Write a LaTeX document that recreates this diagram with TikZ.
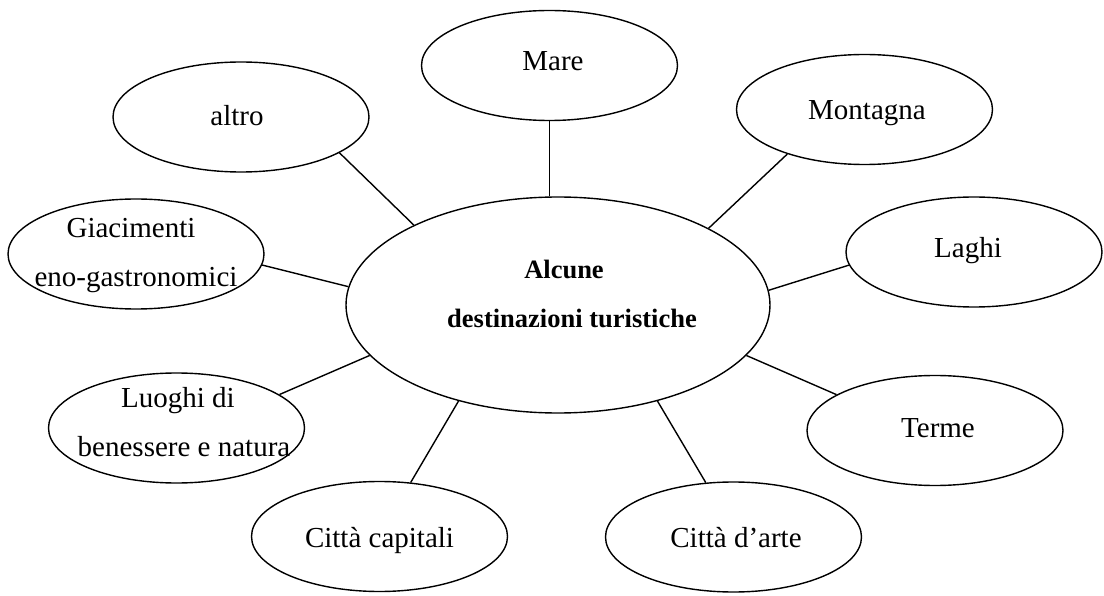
\documentclass[tikz,border=0pt]{standalone}
\usepackage{fontspec}
\setmainfont{Liberation Serif}
\usetikzlibrary{shapes.geometric}

\tikzset{
  bubble/.style={draw=black, line width=1.4pt, shape=ellipse, inner sep=0pt,
                 minimum width=256pt, minimum height=110pt},
  hub/.style={bubble, minimum width=424pt, minimum height=216pt},
  lbl/.style={anchor=base, inner sep=0pt, font=\fontsize{29}{34}\selectfont},
  blbl/.style={anchor=base, inner sep=0pt, font=\fontsize{26.5}{32}\selectfont\bfseries},
  link/.style={draw=black, line width=1.4pt}
}

\begin{document}
\begin{tikzpicture}[x=1pt, y=-1pt]
\useasboundingbox (0,0) rectangle (1104,596);

% central topic
\node[hub] (C) at (558,305) {};
\node[blbl] (c1) at (564,279) {Alcune};
\node[blbl] (c2) at (572,327) {destinazioni turistiche};

% surrounding destinations
\node[bubble] (mare)  at (549.5,65.5) {};
\node[bubble] (mont)  at (864.5,109.5) {};
\node[bubble] (laghi) at (974,252)    {};
\node[bubble] (terme) at (935,430.5)  {};
\node[bubble] (arte)  at (733.5,537)  {};
\node[bubble] (capit) at (379.5,536.5) {};
\node[bubble] (luog)  at (176.5,428)  {};
\node[bubble] (giac)  at (136,254)    {};
\node[bubble] (altro) at (241,117)    {};

% labels
\node[lbl] (tmare)  at (553,71)    {Mare};
\node[lbl] (tmont)  at (867,120)   {Montagna};
\node[lbl] (tlaghi) at (968,258)   {Laghi};
\node[lbl] (tterme) at (938,437)   {Terme};
\node[lbl] (tarte)  at (736,547)   {Città d’arte};
\node[lbl] (tcapit) at (379.5,547) {Città capitali};
\node[lbl] (tluog1) at (178,407)   {Luoghi di};
\node[lbl] (tluog2) at (184,456)   {benessere e natura};
\node[lbl] (tgiac1) at (131,238)   {Giacimenti};
\node[lbl] (tgiac2) at (136,287)   {eno-gastronomici};
\node[lbl] (taltro) at (237,126)   {altro};

% spokes
\draw[link] (mare.south) -- (mare.south |- C.north);
\draw[link] (mont.210.2) -- (C.27);
\draw[link] (laghi.186.6) -- (C.4.4);
\draw[link] (terme.160.3) -- (C.-15.5);
\draw[link] (arte.117) -- (C.-44.1);
\draw[link] (capit.60.3) -- (C.224.1);
\draw[link] (luog.18) -- (C.195.8);
\draw[link] (giac.-5.4) -- (C.175.7);
\draw[link] (altro.-20) -- (C.151);
\end{tikzpicture}
\end{document}
